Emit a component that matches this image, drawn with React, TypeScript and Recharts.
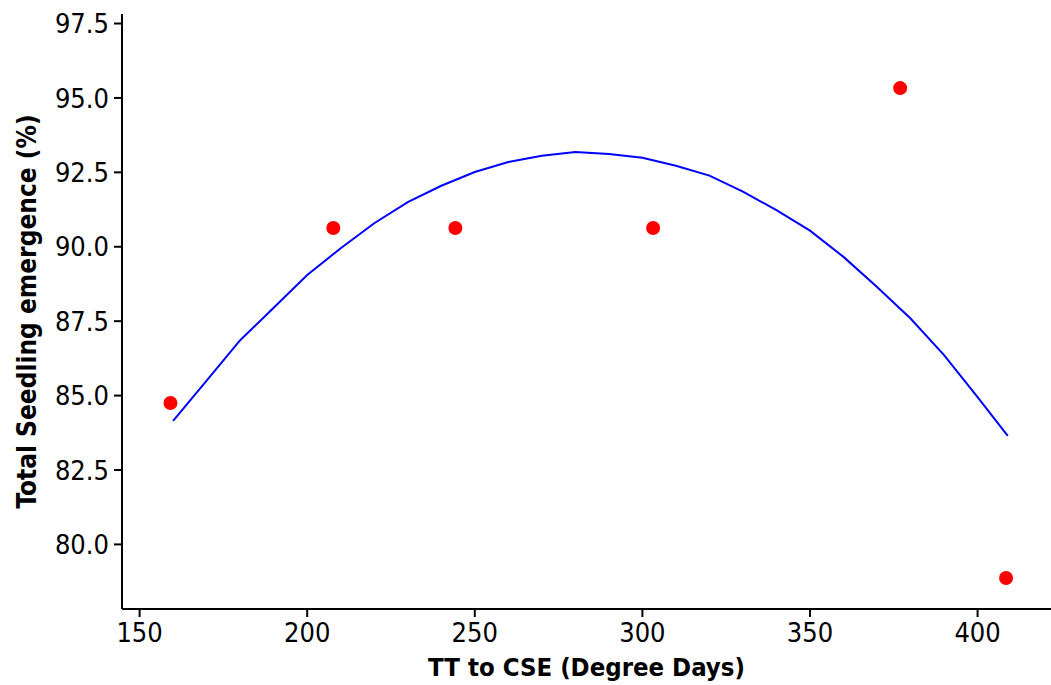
import React from 'react';
import { ScatterChart, Scatter, XAxis, YAxis, ZAxis } from 'recharts';

// Observed points
const obsX = [159.2, 207.8, 244.2, 303.2, 376.9, 408.5];
const obsY = [84.75, 90.63, 90.63, 90.63, 95.33, 78.87];

// Fitted curve vertices
const fitX = [160, 170, 180, 190, 200, 210, 220, 230, 240, 250, 260, 270, 280, 290, 300, 310, 320, 330, 340, 350, 360, 370, 380, 390, 400, 409];
const fitY = [84.15, 85.5, 86.86, 87.95, 89.05, 89.95, 90.79, 91.5, 92.05, 92.51, 92.85, 93.06, 93.18, 93.12, 92.99, 92.72, 92.39, 91.85, 91.23, 90.54, 89.66, 88.65, 87.59, 86.36, 84.95, 83.65];

const xTicks = [150, 200, 250, 300, 350, 400];
const yTicks = [80, 82.5, 85, 87.5, 90, 92.5, 95, 97.5];

const xTitle = 'TT to CSE (Degree Days)';
const yTitle = 'Total Seedling emergence (%)';

const obsData = obsX.map((x, i) => ({ x, y: obsY[i] }));
const fitData = fitX.map((x, i) => ({ x, y: fitY[i] }));

const FONT = "'DejaVu Sans Condensed', 'DejaVu Sans', sans-serif";
const tickStyle = { fontFamily: FONT, fontSize: 27, fill: '#000' };

const RedDot = (props: any) => {
  const { cx, cy } = props;
  return <circle cx={cx} cy={cy} r={7} fill="#FF0000" />;
};
const NoDot = () => null;

export default function App() {
  return (
    <div style={{ position: 'absolute', left: 0, top: 0, width: 1051, height: 685, background: '#fff' }}>
      <ScatterChart width={1051} height={685} margin={{ top: 14, right: 0, bottom: 0, left: 0 }}>
        <XAxis
          xAxisId="b"
          type="number"
          dataKey="x"
          domain={[144.75, 421.9]}
          ticks={xTicks}
          allowDataOverflow
          height={76}
          tickSize={8}
          tickMargin={6}
          tick={tickStyle}
          axisLine={{ stroke: '#000', strokeWidth: 2 }}
          tickLine={{ stroke: '#000', strokeWidth: 2 }}
          label={{ value: xTitle, position: 'center', dy: 20, style: { fontFamily: FONT, fontSize: 25.5, fontWeight: 'bold', fill: '#000' } }}
        />
        <XAxis
          xAxisId="t"
          orientation="top"
          type="number"
          dataKey="x"
          domain={[144.75, 421.9]}
          height={0}
          tick={false}
          tickLine={false}
          axisLine={{ stroke: '#000', strokeWidth: 2 }}
        />
        <YAxis
          yAxisId="l"
          type="number"
          dataKey="y"
          domain={[77.83, 97.82]}
          ticks={yTicks}
          allowDataOverflow
          width={122}
          tickSize={8}
          tickMargin={5}
          tick={tickStyle}
          tickFormatter={(v: number) => v.toFixed(1)}
          axisLine={{ stroke: '#000', strokeWidth: 2 }}
          tickLine={{ stroke: '#000', strokeWidth: 2 }}
          label={{ value: yTitle, position: 'center', angle: -90, dx: -34, style: { fontFamily: FONT, fontSize: 26, fontWeight: 'bold', fill: '#000', textAnchor: 'middle' } }}
        />
        <ZAxis range={[100, 100]} />
        <Scatter
          xAxisId="b"
          yAxisId="l"
          data={fitData}
          line={{ stroke: '#0000FF', strokeWidth: 2 }}
          lineType="joint"
          shape={NoDot}
          isAnimationActive={false}
        />
        <Scatter
          xAxisId="b"
          yAxisId="l"
          data={obsData}
          shape={RedDot}
          isAnimationActive={false}
        />
      </ScatterChart>
    </div>
  );
}
